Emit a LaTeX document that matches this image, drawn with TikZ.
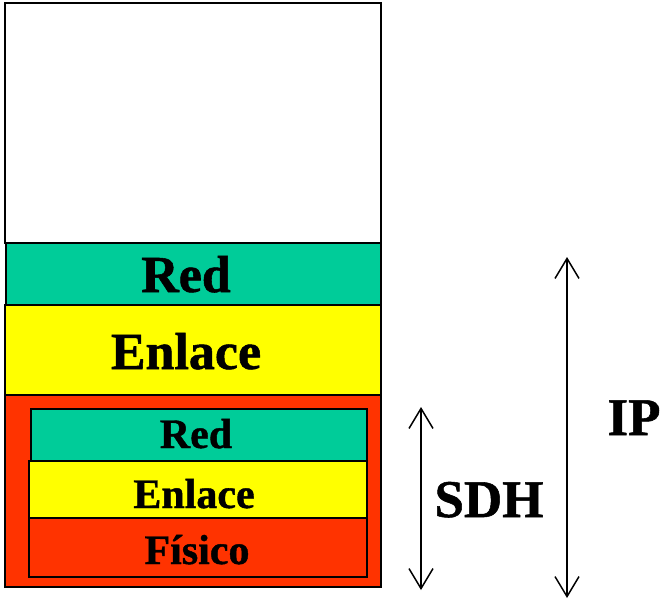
\documentclass[tikz,border=0pt]{standalone}
\usepackage{fontspec}
\setmainfont[BoldFeatures={FakeBold=1}]{Liberation Serif}
\usetikzlibrary{arrows.meta}
\definecolor{tealc}{RGB}{0,204,153}
\definecolor{yell}{RGB}{255,255,0}
\definecolor{orng}{RGB}{255,51,0}
\tikzset{
  layer/.style={draw=black, line width=1.7pt, inner sep=0pt, outer sep=0pt},
  big/.style={anchor=base, inner sep=0pt, font=\fontsize{52}{60}\selectfont\bfseries},
  small/.style={anchor=base, inner sep=0pt, font=\fontsize{42}{48}\selectfont\bfseries},
  span/.style={line width=1.5pt, {Straight Barb[length=20pt,width=24pt,line width=1.5pt]}-{Straight Barb[length=20pt,width=24pt,line width=1.5pt]}},
  lbl/.style={anchor=base, inner sep=0pt, font=\fontsize{53}{60}\selectfont\bfseries}
}
\begin{document}
\begin{tikzpicture}[x=1pt,y=1pt]
\useasboundingbox (0,0) rectangle (662,-600);
% outer stack
\node[layer, fill=white, minimum width=376pt, minimum height=240pt, anchor=north west] (top) at (4.8,-3) {};
\node[layer, fill=tealc, minimum width=375pt, minimum height=62pt, anchor=north west] (red) at (6,-243) {};
\node[layer, fill=yell, minimum width=376pt, minimum height=90pt, anchor=north west] (enl) at (4.8,-305) {};
\node[layer, fill=orng, minimum width=376pt, minimum height=192pt, anchor=north west] (phy) at (4.8,-395) {};
\node[big] (redt) at (186,-292) {Red};
\node[big] (enlt) at (186,-369) {Enlace};
% inner stack
\node[layer, fill=tealc, minimum width=336pt, minimum height=52pt, anchor=north west] (ired) at (31,-409) {};
\node[layer, fill=yell, minimum width=338pt, minimum height=57pt, anchor=north west] (ienl) at (29,-461) {};
\node[layer, fill=orng, minimum width=338pt, minimum height=59pt, anchor=north west] (ifis) at (29,-518) {};
\node[small] (iredt) at (196,-448) {Red};
\node[small] (ienlt) at (194,-508) {Enlace};
\node[small] (ifist) at (197,-564) {Físico};
% arrows
\coordinate (sdhT) at (421,-407);
\coordinate (sdhB) at (421,-590);
\coordinate (ipT) at (567,-257);
\coordinate (ipB) at (567,-598);
\draw[span] (sdhT) -- (sdhB);
\draw[span] (ipT) -- (ipB);
\node[lbl] (sdh) at (489,-517) {SDH};
\node[lbl] (ip) at (634,-435) {IP};
\end{tikzpicture}
\end{document}
